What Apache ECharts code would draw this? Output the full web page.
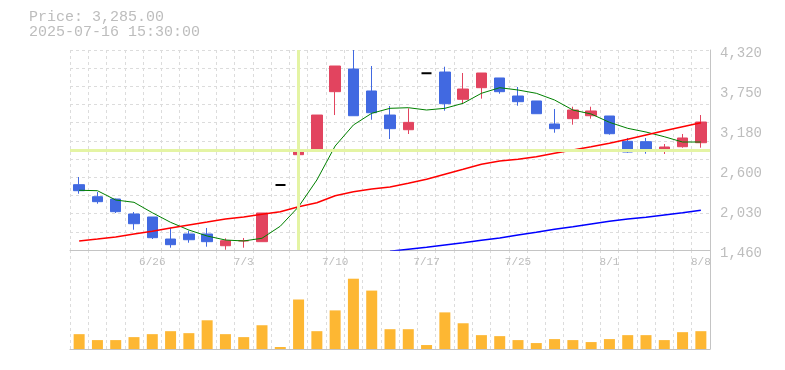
<!DOCTYPE html>
<html>
<head>
<meta charset="utf-8">
<script src="https://cdn.jsdelivr.net/npm/echarts@6/dist/echarts.min.js"></script>
<style>
html,body{margin:0;padding:0;background:#fff;}
#chart{width:785px;height:370px;}
</style>
</head>
<body>
<div id="chart"></div>
<script>
// ---- data ----
const dates = ['6/20','6/23','6/24','6/25','6/26','6/27','6/30','7/1','7/2','7/3','7/4','7/7','7/8','7/9','7/10','7/11','7/14','7/15','7/16','7/17','7/18','7/22','7/23','7/24','7/25','7/28','7/29','7/30','7/31','8/1','8/4','8/5','8/6','8/7','8/8'];
const tickLabels = ['6/26','7/3','7/10','7/17','7/25','8/1','8/8'];
const opens  = [2394,2222,2189,1975,1932,1617,1689,1689,1521,1590,1579,2390,2823,2876,3724,4048,3734,3390,3180,3987,4005,3615,3781,3920,3662,3591,3262,3338,3380,3376,3014,3009,2880,2937,2994];
const closes = [2308,2151,2008,1836,1636,1536,1607,1579,1593,1593,1989,2390,2890,3390,4091,3380,3423,3195,3285,3987,3552,3762,3991,3724,3581,3409,3195,3462,3448,3123,2861,2894,2933,3062,3290];
const lows   = [2265,2122,1989,1750,1617,1493,1564,1507,1464,1493,1579,2390,2614,2867,3390,3380,3323,3047,3119,3987,3452,3552,3624,3695,3523,3409,3137,3252,3338,3109,2851,2837,2833,2923,2923];
const highs  = [2504,2289,2195,2003,1932,1775,1736,1775,1627,1632,1989,2390,2890,3390,4091,4320,4091,3519,3486,3987,4081,3991,3991,3920,3791,3591,3476,3509,3509,3376,3062,3062,2976,3119,3390];
const flatDays = ['7/7','7/17'];
const volumes = [150000,90000,90000,120000,150000,180000,160000,290000,150000,120000,240000,20000,500000,180000,390000,710000,590000,200000,200000,40000,370000,260000,140000,130000,90000,60000,100000,90000,70000,100000,140000,140000,90000,170000,180000];
const maShort = [2314,2308,2175,2142,1993,1856,1746,1660,1603,1589,1628,1800,2079,2461,2947,3248,3415,3486,3495,3462,3486,3558,3701,3781,3748,3701,3605,3462,3405,3286,3200,3147,3080,3004,3004];
const maMid   = [1589,1617,1646,1689,1727,1775,1818,1860,1903,1932,1971,2008,2079,2136,2236,2294,2332,2361,2414,2471,2543,2614,2686,2733,2757,2794,2843,2890,2937,2986,3043,3105,3166,3223,3280];
const maLong  = ['-','-','-','-','-','-','-','-','-','-','-','-','-','-','-','-','-',1441,1470,1499,1532,1564,1599,1632,1675,1713,1756,1793,1832,1870,1903,1928,1961,1993,2028];
const priceMin = 1460, priceMax = 4320, priceStep = 572;
const crossDate = '7/8', crossPrice = 2890;
const infoPrice = 'Price: 3,285.00';
const infoTime = '2025-07-16 15:30:00';

// ---- chart ----
const UP = '#E2445F', DOWN = '#4169E1';
const candleData = dates.map((d, i) => {
  const item = { value: [opens[i], closes[i], lows[i], highs[i]] };
  if (flatDays.includes(d)) {
    item.itemStyle = { color: '#000', color0: '#000', borderColor: '#000', borderColor0: '#000', borderColorDoji: '#000', borderWidth: 2 };
  }
  return item;
});
const font = 'Liberation Mono, DejaVu Sans Mono, monospace';
const gridLine = { show: true, lineStyle: { color: '#dcdcdc', type: [3, 3], width: 1 } };
const axisLn = { show: true, lineStyle: { color: '#c4c4c4', width: 1 } };

const chart = echarts.init(document.getElementById('chart'), null, { renderer: 'canvas' });
chart.setOption({
  animation: false,
  backgroundColor: '#fff',
  title: {
    text: infoPrice + '\n' + infoTime,
    left: 29, top: 10, padding: 0,
    textStyle: { fontFamily: font, fontSize: 15, fontWeight: 'normal', color: '#bdbdbd', lineHeight: 15 }
  },
  grid: [
    { left: 70, right: 75, top: 50, height: 200 },
    { left: 70, right: 75, top: 250, height: 99 }
  ],
  xAxis: [
    { type: 'category', gridIndex: 0, data: dates, boundaryGap: true,
      axisLine: axisLn, axisTick: { show: false },
      axisLabel: { show: true, interval: (i, v) => tickLabels.includes(v), color: '#bdbdbd', fontFamily: font, fontSize: 11, margin: 7 },
      splitLine: Object.assign({ interval: 0 }, gridLine) },
    { type: 'category', gridIndex: 1, data: dates, boundaryGap: true,
      axisLine: axisLn, axisTick: { show: false }, axisLabel: { show: false },
      splitLine: Object.assign({ interval: 0 }, gridLine) }
  ],
  yAxis: [
    { type: 'value', gridIndex: 0, position: 'right', min: priceMin, max: priceMax, interval: priceStep,
      axisLine: axisLn, axisTick: { show: false }, splitLine: { show: false },
      axisLabel: { color: '#bdbdbd', fontFamily: font, fontSize: 14, margin: 10,
        formatter: v => '{a|' + (Math.round(v / 10) * 10).toLocaleString('en-US') + '}',
        rich: { a: { color: '#bdbdbd', fontFamily: font, fontSize: 14, padding: [7, 0, 0, 0] } } } },
    { type: 'value', gridIndex: 0, position: 'left', min: 0, max: 11, interval: 1,
      axisLine: { show: false }, axisTick: { show: false }, axisLabel: { show: false },
      splitLine: gridLine },
    { type: 'value', gridIndex: 1, position: 'right', min: 0, max: 1000000,
      axisLine: axisLn, axisTick: { show: false }, axisLabel: { show: false }, splitLine: { show: false } }
  ],
  series: [
    { type: 'line', xAxisIndex: 0, yAxisIndex: 0, data: [], z: 1, silent: true,
      markLine: { silent: true, symbol: 'none', label: { show: false },
        lineStyle: { color: '#E4F4A4', width: 3, type: 'solid' },
        data: [{ xAxis: crossDate }, { yAxis: crossPrice }] } },
    { type: 'candlestick', xAxisIndex: 0, yAxisIndex: 0, data: candleData, barWidth: 11, z: 3,
      itemStyle: { color: UP, color0: DOWN, borderColor: UP, borderColor0: DOWN, borderWidth: 1 } },
    { type: 'line', xAxisIndex: 0, yAxisIndex: 0, data: maShort, symbol: 'none', z: 4,
      lineStyle: { color: '#008000', width: 1 } },
    { type: 'line', xAxisIndex: 0, yAxisIndex: 0, data: maMid, symbol: 'none', z: 4,
      lineStyle: { color: '#FF0000', width: 1.5 } },
    { type: 'line', xAxisIndex: 0, yAxisIndex: 0, data: maLong, symbol: 'none', z: 4, clip: true,
      lineStyle: { color: '#0000FF', width: 1.5 } },
    { type: 'bar', xAxisIndex: 1, yAxisIndex: 2, data: volumes, barWidth: 11,
      itemStyle: { color: '#FDB733' } }
  ]
});
</script>
</body>
</html>
